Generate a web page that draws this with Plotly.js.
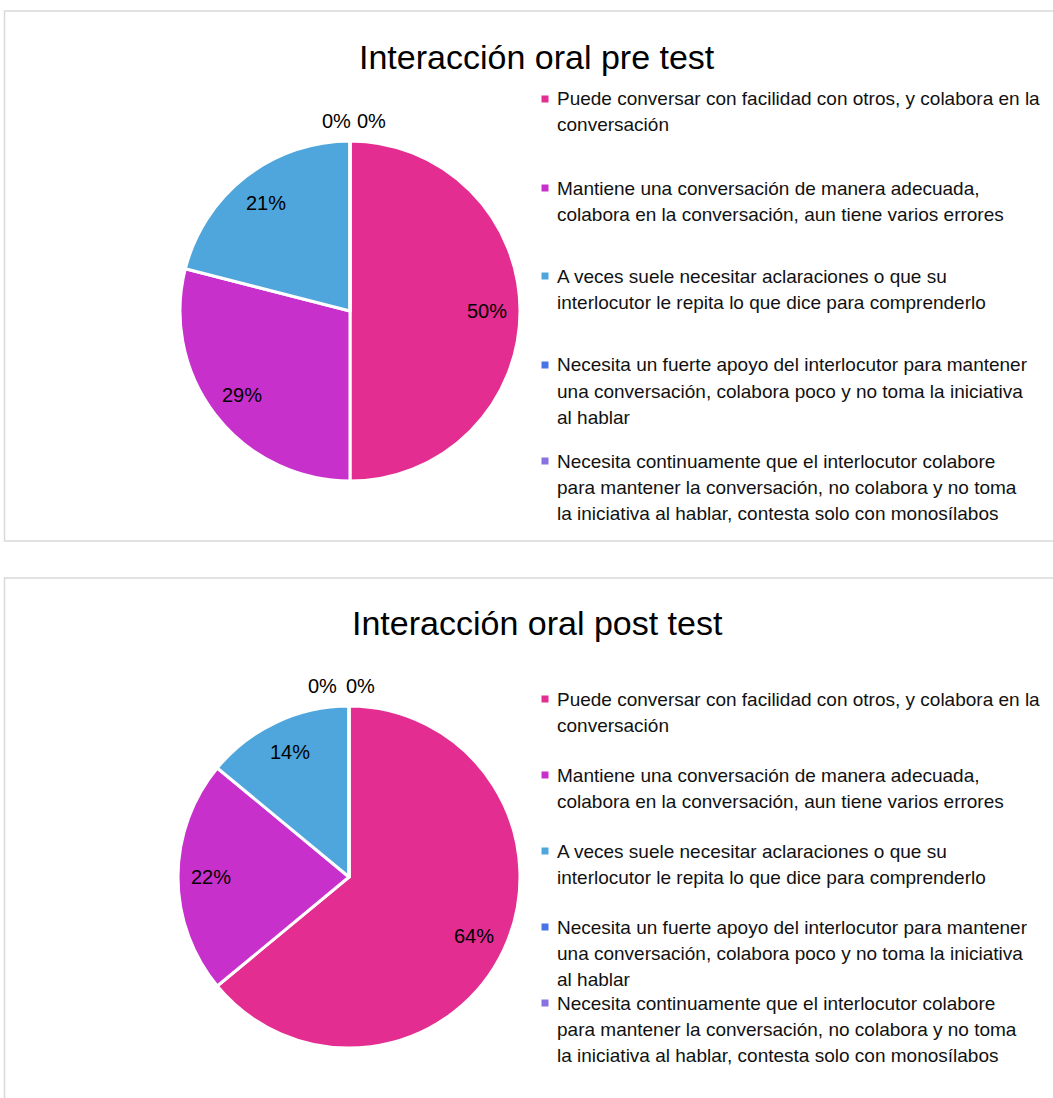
<!DOCTYPE html>
<html><head><meta charset="utf-8">
<script src="https://cdn.plot.ly/plotly-3.0.1.min.js"></script>
<style>html,body{margin:0;padding:0;background:#fff}#chart{width:1053px;height:1098px}</style>
</head><body><div id="chart"></div>
<script>
// ---- data ----
const categories = [
  "Puede conversar con facilidad con otros, y colabora en la<br>conversación",
  "Mantiene una conversación de manera adecuada,<br>colabora en la conversación, aun tiene varios errores",
  "A veces suele necesitar aclaraciones o que su<br>interlocutor le repita lo que dice para comprenderlo",
  "Necesita un fuerte apoyo del interlocutor para mantener<br>una conversación, colabora poco y no toma la iniciativa<br>al hablar",
  "Necesita continuamente que el interlocutor colabore<br>para mantener la conversación, no colabora y no toma<br>la iniciativa al hablar, contesta solo con monosílabos"
];
const preValues = [50, 29, 21, 0, 0];
const postValues = [64, 22, 14, 0, 0];
const chartTitles = ["Interacción oral pre test", "Interacción oral post test"];
const sliceColors = ["#E32D91", "#C830CC", "#4EA6DC", "#4775E7", "#8971E1"];

// ---- layout helpers ----
const W = 1053, H = 1098;
const px = x => x / W;
const py = y => 1 - y / H;
const FONT = "Liberation Sans, Arial, sans-serif";

const panels = [
  {values: preValues, title: chartTitles[0], boxTop: 11, boxBottom: 541, cx: 350, cy: 311, R: 170, titleY: 57,
   legendY: [99, 188, 276, 365, 461], zeroX: 354, zeroGap: 35},
  {values: postValues, title: chartTitles[1], boxTop: 578, boxBottom: 1110, cx: 349, cy: 877, R: 171, titleY: 623,
   legendY: [699, 775, 851, 927, 1003], zeroX: 341, zeroGap: 38}
];

const traces = [];
const annotations = [];
const shapes = [];

panels.forEach(p => {
  // frame
  shapes.push({type: 'rect', xref: 'paper', yref: 'paper', x0: px(4.5), x1: px(1070), y0: py(p.boxTop), y1: py(p.boxBottom),
    line: {color: '#D9D9D9', width: 1.5}, fillcolor: 'rgba(0,0,0,0)'});
  // pie
  traces.push({
    type: 'pie', values: p.values, labels: categories.map(c => c.replace(/<br>/g, ' ')),
    marker: {colors: sliceColors, line: {color: '#FFFFFF', width: 3}},
    sort: false, direction: 'clockwise', rotation: 0, textinfo: 'none', showlegend: false,
    hoverinfo: 'label+percent',
    domain: {x: [px(p.cx - p.R), px(p.cx + p.R)], y: [py(p.cy + p.R), py(p.cy - p.R)]}
  });
  // title
  annotations.push({xref: 'paper', yref: 'paper', x: px(537), y: py(p.titleY), xanchor: 'center', yanchor: 'middle',
    text: p.title, showarrow: false, font: {family: FONT, size: 34, color: '#000'}});
  // data labels
  const total = p.values.reduce((a, b) => a + b, 0);
  let cum = 0;
  const zeros = [];
  p.values.forEach((v, i) => {
    const pct = Math.round(v / total * 100) + '%';
    if (v === 0) { zeros.push(pct); return; }
    const th = 2 * Math.PI * (cum + v / 2) / total;
    cum += v;
    const r = 0.806 * p.R;
    annotations.push({xref: 'paper', yref: 'paper', x: px(p.cx + r * Math.sin(th)), y: py(p.cy - r * Math.cos(th)),
      xanchor: 'center', yanchor: 'middle', text: pct, showarrow: false, font: {family: FONT, size: 20, color: '#000'}});
  });
  zeros.forEach((t, k) => {
    const off = (k - (zeros.length - 1) / 2) * p.zeroGap;
    annotations.push({xref: 'paper', yref: 'paper', x: px(p.zeroX + off), y: py(p.cy - p.R - 20),
      xanchor: 'center', yanchor: 'middle', text: t, showarrow: false, font: {family: FONT, size: 20, color: '#000'}});
  });
  // legend
  categories.forEach((c, i) => {
    const y0 = p.legendY[i];
    shapes.push({type: 'rect', xref: 'paper', yref: 'paper', x0: px(541.5), x1: px(548.5), y0: py(y0 + 3.5), y1: py(y0 - 3.5),
      line: {width: 0}, fillcolor: sliceColors[i]});
    c.split('<br>').forEach((line, j) => {
      annotations.push({xref: 'paper', yref: 'paper', x: px(555), y: py(y0 + 26 * j), xanchor: 'left', yanchor: 'middle',
        text: line, showarrow: false, font: {family: FONT, size: 19, color: '#111'}});
    });
  });
});

Plotly.newPlot('chart', traces, {
  width: W, height: H, margin: {l: 0, r: 0, t: 0, b: 0},
  paper_bgcolor: '#fff', plot_bgcolor: '#fff',
  shapes: shapes, annotations: annotations
}, {displayModeBar: false, staticPlot: true});
</script>
</body></html>
